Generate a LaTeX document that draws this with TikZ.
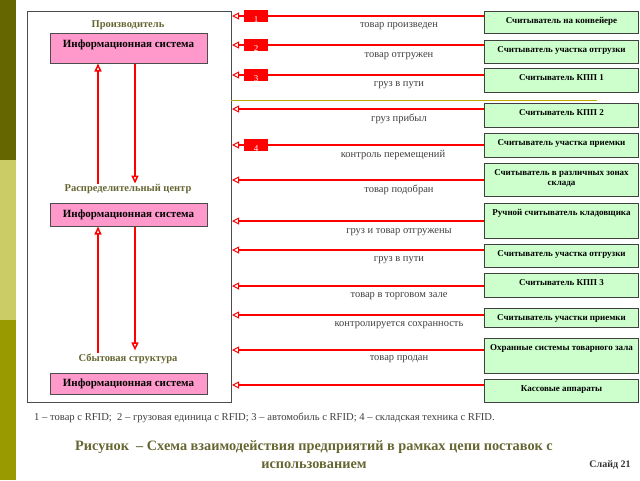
\documentclass[tikz,border=0pt]{standalone}
\usepackage{fontspec}
\setmainfont{Liberation Serif}
\usetikzlibrary{arrows.meta,positioning}
\definecolor{barA}{RGB}{102,102,0}
\definecolor{barB}{RGB}{204,204,102}
\definecolor{barC}{RGB}{153,153,0}
\definecolor{olivetxt}{RGB}{102,102,51}
\definecolor{pinkfill}{RGB}{255,153,204}
\definecolor{greenfill}{RGB}{204,255,204}
\definecolor{sepcol}{RGB}{190,170,0}

\begin{document}
\begin{tikzpicture}[x=1pt,y=-1pt,
    infobox/.style={draw=black!70,fill=pinkfill,line width=1pt,minimum width=157pt,inner sep=0pt,font=\fontsize{11}{12}\selectfont\bfseries},
    part/.style={text=olivetxt,inner sep=0.5pt,font=\fontsize{10.5}{12}\selectfont\bfseries},
    reader/.style={draw=black!75,fill=greenfill,line width=1pt,anchor=north west,minimum width=154pt,inner xsep=2pt,inner ysep=0pt,text height=12pt,text depth=#1,align=center,font=\fontsize{9}{10}\selectfont\bfseries},
    msg/.style={text=black!75,inner sep=0pt,font=\fontsize{10.5}{12}\selectfont},
    tag/.style={fill=red,text=white,minimum width=24pt,minimum height=11pt,inner sep=0pt,text height=12pt,text depth=0pt,font=\fontsize{9}{9}\selectfont},
    flow/.style={draw=red,line width=1.5pt,-{Triangle[open,length=8pt,width=7pt]}},
    signal/.style={draw=red,line width=1.3pt,-{Triangle[open,length=7pt,width=7pt,line width=1pt]}}]
  \useasboundingbox (0,0) rectangle (640,480);
  \fill[barA] (0,0) rectangle (16,160);
  \fill[barB] (0,160) rectangle (16,320);
  \fill[barC] (0,320) rectangle (16,480);

  \node[draw=black!70,line width=1pt,anchor=north west,minimum width=204pt,minimum height=391pt,inner sep=0pt] (org) at (27,11) {};
  \node[part] (prod) at (128,25) {Производитель};
  \node[infobox,minimum height=30pt,text height=8pt,text depth=9.5pt] (is1) at (128.5,48) {Информационная система};
  \node[part] (dc) at (128,189) {Распределительный центр};
  \node[infobox,minimum height=23pt] (is2) at (128.5,214.5) {Информационная система};
  \node[part] (retail) at (128,359) {Сбытовая структура};
  \node[infobox,minimum height=21pt] (is3) at (128.5,383.5) {Информационная система};

  \coordinate (a1) at ([xshift=-30.5pt]is1.south);
  \coordinate (b1) at ([xshift=6.5pt]is1.south);
  \coordinate (a2) at ([xshift=-30.5pt]is2.south);
  \coordinate (b2) at ([xshift=6.5pt]is2.south);
  \draw[flow] (a1 |- dc.north) -- (a1);
  \draw[flow] (b1) -- (b1 |- dc.north);
  \draw[flow] (a2 |- retail.north) -- (a2);
  \draw[flow,shorten >=3pt] (b2) -- (b2 |- retail.north);

  \draw[sepcol,line width=1.8pt] (231,100.5) -- (597,100.5);

  \node[reader=10pt] (r1) at (484,11) {Считыватель на конвейере};
  \node[reader=11pt] (r2) at (484,40) {Считыватель участка отгрузки};
  \node[reader=12pt] (r3) at (484,68) {Считыватель КПП 1};
  \node[reader=12pt] (r4) at (484,103) {Считыватель КПП 2};
  \node[reader=12pt] (r5) at (484,133) {Считыватель участка приемки};
  \node[reader=11pt,text height=22pt] (r6) at (484,163) {Считыватель в различных зонах\\склада};
  \node[reader=23pt] (r7) at (484,203) {Ручной считыватель кладовщика};
  \node[reader=11pt] (r8) at (484,244) {Считыватель участка отгрузки};
  \node[reader=12pt] (r9) at (484,273) {Считыватель КПП 3};
  \node[reader=7pt] (r10) at (484,308) {Считыватель участки приемки};
  \node[reader=23pt] (r11) at (484,338) {Охранные системы товарного зала};
  \node[reader=11pt] (r12) at (484,379) {Кассовые аппараты};

  \foreach \i/\d in {1/5,2/5,3/7,4/6,5/12,6/17,7/18,8/6,9/13,10/7,11/12,12/6}
    \draw[signal] ([yshift=-\d pt]r\i.north west) coordinate (s\i) -- (s\i -| org.east);

  \node[tag,xshift=24pt] (t1) at (s1 -| org.east) {1};
  \node[tag,xshift=24pt] (t2) at (s2 -| org.east) {2};
  \node[tag,xshift=24pt] (t3) at (s3 -| org.east) {3};
  \node[tag,xshift=24pt] (t4) at (s5 -| org.east) {4};

  \node[msg] (m1) at (399,26) {товар произведен};
  \node[msg] (m2) at (399,56) {товар отгружен};
  \node[msg] (m3) at (399,85) {груз в пути};
  \node[msg] (m4) at (399,119) {груз прибыл};
  \node[msg] (m5) at (393,155) {контроль перемещений};
  \node[msg] (m6) at (399,190) {товар подобран};
  \node[msg] (m7) at (399,232) {груз и товар отгружены};
  \node[msg] (m8) at (399,260) {груз в пути};
  \node[msg] (m9) at (399,296) {товар в торговом зале};
  \node[msg] (m10) at (399,325) {контролируется сохранность};
  \node[msg] (m11) at (399,359) {товар продан};

  \node[anchor=west,text=black!75,inner sep=0pt,font=\fontsize{10.6}{12}\selectfont] (key) at (34,418) {1 – товар с RFID;\ \ 2 – грузовая единица с RFID; 3 – автомобиль с RFID; 4 – складская техника с RFID.};
  \node[align=center,text=olivetxt,inner sep=0pt,font=\fontsize{14.3}{18}\selectfont\bfseries] (cap) at (314,455) {Рисунок\ \ – Схема взаимодействия предприятий в рамках цепи поставок с\\использованием};
  \node[text=black!80,inner sep=0pt,font=\fontsize{10}{12}\selectfont\bfseries] (slide) at (610,465) {Слайд 21};
\end{tikzpicture}
\end{document}
